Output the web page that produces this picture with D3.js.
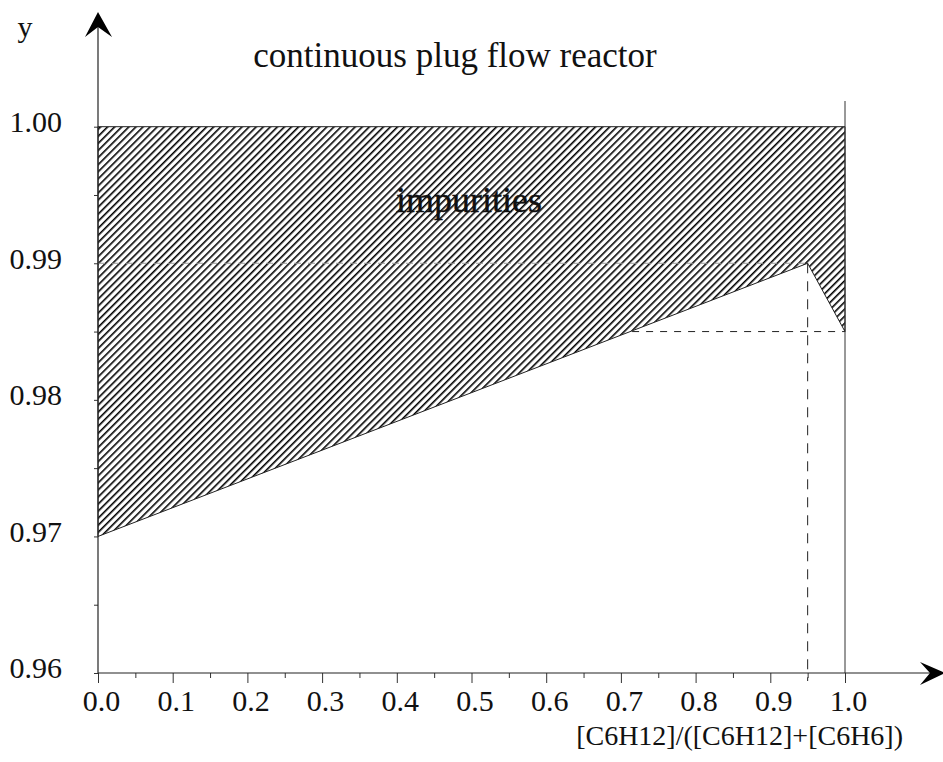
<!DOCTYPE html>
<html>
<head>
<meta charset="utf-8">
<script src="https://cdn.jsdelivr.net/npm/d3@7"></script>
<style>
  html, body { margin: 0; padding: 0; background: #fff; }
  svg { display: block; }
  text { font-family: "Liberation Serif", "DejaVu Serif", serif; fill: #111; }
</style>
</head>
<body>
<script>
// Boundary of the impurity region (mole fraction vs. purity y)
const boundaryX = [0.0, 0.95, 1.0];
const boundaryY = [0.97, 0.99, 0.985];
const topY = 1.00;

// Axis ticks
const xMajor = [0.0, 0.1, 0.2, 0.3, 0.4, 0.5, 0.6, 0.7, 0.8, 0.9, 1.0];
const xMinor = [0.05, 0.15, 0.25, 0.35, 0.45, 0.55, 0.65, 0.75, 0.85, 0.95];
const yMajor = [0.96, 0.97, 0.98, 0.99, 1.00];
const yMinor = [0.965, 0.975, 0.985, 0.995];

// Reference marks: optimum composition and its purity levels
const optX = 0.95;
const optY = 0.99;
const endY = 0.985;

const titleText = "continuous plug flow reactor";
const regionText = "impurities";
const xLabelText = "[C6H12]/([C6H12]+[C6H6])";
const yLabelText = "y";

const W = 943, H = 762;
const svg = d3.select("body").append("svg").attr("width", W).attr("height", H);

const x = d3.scaleLinear().domain([0, 1]).range([98, 845]);
const y = d3.scaleLinear().domain([0.96, 1.00]).range([673, 126.7]);

// Diagonal hatch pattern
const defs = svg.append("defs");
const pat = defs.append("pattern")
  .attr("id", "hatch")
  .attr("patternUnits", "userSpaceOnUse")
  .attr("width", 5)
  .attr("height", 5)
  .attr("patternTransform", "rotate(45)");
pat.append("rect").attr("width", 5).attr("height", 5).attr("fill", "#fff");
pat.append("line")
  .attr("x1", 0).attr("y1", 0).attr("x2", 0).attr("y2", 5)
  .attr("stroke", "#000").attr("stroke-width", 3.2);

// Hatched impurity region
const region = [[0, topY], [1, topY], [boundaryX[2], boundaryY[2]], [boundaryX[1], boundaryY[1]], [boundaryX[0], boundaryY[0]]];
svg.append("path")
  .attr("d", d3.line().x(d => x(d[0])).y(d => y(d[1]))(region) + "Z")
  .attr("fill", "url(#hatch)")
  .attr("stroke", "#222")
  .attr("stroke-width", 1);

// Faint dashed reference lines
const dash = "7,7";
svg.append("line")
  .attr("x1", x(0)).attr("x2", x(optX)).attr("y1", y(optY)).attr("y2", y(optY))
  .attr("stroke", "#999").attr("stroke-width", 1).attr("stroke-dasharray", dash);
svg.append("line")
  .attr("x1", x(0.715)).attr("x2", x(1)).attr("y1", y(endY)).attr("y2", y(endY))
  .attr("stroke", "#222").attr("stroke-width", 1).attr("stroke-dasharray", dash);
svg.append("line")
  .attr("x1", x(optX)).attr("x2", x(optX)).attr("y1", y(optY)).attr("y2", y(0.96) + 8)
  .attr("stroke", "#222").attr("stroke-width", 1).attr("stroke-dasharray", "10,8");

// Vertical limit at x = 1
svg.append("line")
  .attr("x1", x(1)).attr("x2", x(1)).attr("y1", 101).attr("y2", y(0.96))
  .attr("stroke", "#333").attr("stroke-width", 1);

// X axis
const xAxis = svg.append("g").attr("transform", `translate(0,${y(0.96)})`)
  .call(d3.axisBottom(x).tickValues(xMajor).tickSize(10).tickPadding(7).tickFormat(d3.format(".1f")));
svg.append("g").attr("transform", `translate(0,${y(0.96)})`)
  .call(d3.axisBottom(x).tickValues(xMinor).tickSize(5).tickFormat(""))
  .call(g => g.select(".domain").remove());
xAxis.select(".domain").remove();
xAxis.selectAll("text").attr("font-size", 30).attr("font-family", "Liberation Serif").attr("fill", "#111").attr("dx", 3);

// Y axis
const yAxis = svg.append("g").attr("transform", `translate(${x(0)},0)`)
  .call(d3.axisLeft(y).tickValues(yMajor).tickSize(4).tickPadding(32).tickFormat(d3.format(".2f")));
svg.append("g").attr("transform", `translate(${x(0)},0)`)
  .call(d3.axisLeft(y).tickValues(yMinor).tickSize(4).tickFormat(""))
  .call(g => g.select(".domain").remove());
yAxis.select(".domain").remove();
yAxis.selectAll("text").attr("font-size", 30).attr("font-family", "Liberation Serif").attr("fill", "#111").attr("dy", "0.16em");
svg.selectAll(".tick line").attr("stroke", "#333");

// Axis lines with arrowheads
svg.append("line").attr("x1", x(0)).attr("x2", x(0)).attr("y1", 20).attr("y2", y(0.96))
  .attr("stroke", "#222").attr("stroke-width", 1.2);
svg.append("line").attr("x1", x(0)).attr("x2", 935).attr("y1", y(0.96)).attr("y2", y(0.96))
  .attr("stroke", "#222").attr("stroke-width", 1.2);
svg.append("path")
  .attr("d", `M${x(0)},12 L${x(0) + 14},37 L${x(0)},27 L${x(0) - 13},37 Z`)
  .attr("fill", "#000");
const ay = y(0.96);
svg.append("path")
  .attr("d", `M945,${ay} L920,${ay - 11} L930,${ay} L920,${ay + 12} Z`)
  .attr("fill", "#000");

// Text
svg.append("text").attr("x", 455).attr("y", 67).attr("text-anchor", "middle")
  .attr("font-size", 35).text(titleText);
svg.append("text").attr("x", 469).attr("y", 212).attr("text-anchor", "middle")
  .attr("font-size", 36).attr("stroke", "#111").attr("stroke-width", 0.4).text(regionText);
svg.append("text").attr("x", 903).attr("y", 745).attr("text-anchor", "end")
  .attr("font-size", 28).text(xLabelText);
svg.append("text").attr("x", 25).attr("y", 37).attr("text-anchor", "middle")
  .attr("font-size", 30).text(yLabelText);
</script>
</body>
</html>
